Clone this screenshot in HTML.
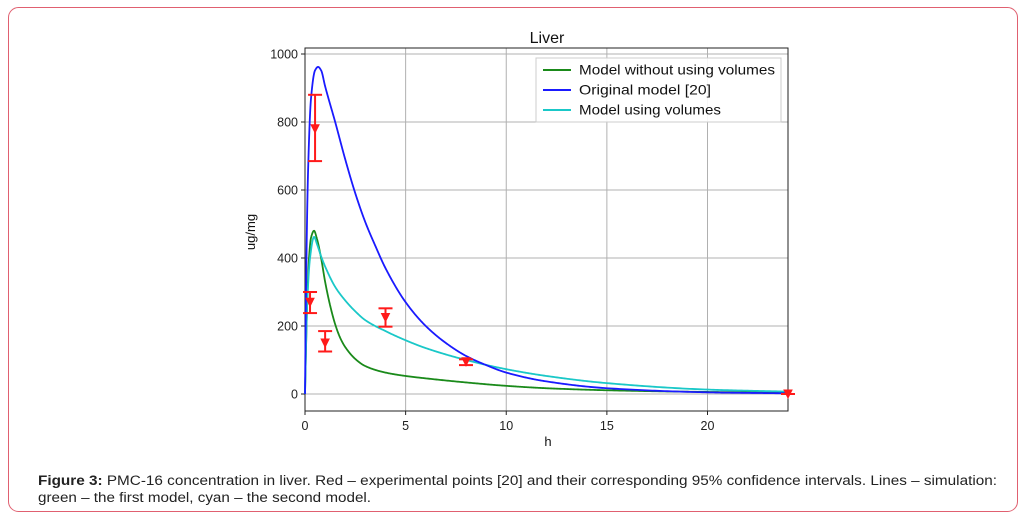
<!DOCTYPE html>
<html><head><meta charset="utf-8"><style>
html,body{margin:0;padding:0;background:#fff;}
svg{display:block;font-family:"Liberation Sans","DejaVu Sans",sans-serif;}
</style></head><body>
<svg id="s" width="1027" height="521" viewBox="0 0 1027 521" xmlns="http://www.w3.org/2000/svg">
<rect x="8.5" y="7.5" width="1009" height="504" rx="10" fill="#fff" stroke="#e06070" stroke-width="1"/>
<g id="grid" stroke="#b0b0b0" stroke-width="1"></g>
<rect x="305" y="48" width="483" height="363" fill="none" stroke="#222" stroke-width="1"/>
<g id="ticks" font-size="12.5" fill="#222"></g>
<text x="547" y="43" font-size="16" text-anchor="middle" fill="#111">Liver</text>
<text x="548" y="446" font-size="13" text-anchor="middle" fill="#111">h</text>
<text transform="translate(255,232) rotate(-90)" font-size="13" text-anchor="middle" fill="#111">ug/mg</text>
<g id="curves" fill="none" stroke-width="1.8"></g>
<g id="err" stroke="#ff1a1a" stroke-width="2" fill="#ff1a1a"></g>
<g>
<rect x="536" y="58" width="245" height="64" fill="#fff" fill-opacity="0.9" stroke="#ccc"/>
<line x1="543" y1="70" x2="571" y2="70" stroke="#1a8a1a" stroke-width="2"/>
<line x1="543" y1="90" x2="571" y2="90" stroke="#1a1aff" stroke-width="2"/>
<line x1="543" y1="110" x2="571" y2="110" stroke="#1ac8c8" stroke-width="2"/>
<text x="579" y="74.5" font-size="14" fill="#111" textLength="196" lengthAdjust="spacingAndGlyphs">Model without using volumes</text>
<text x="579" y="94.5" font-size="14" fill="#111" textLength="132" lengthAdjust="spacingAndGlyphs">Original model [20]</text>
<text x="579" y="114.5" font-size="14" fill="#111" textLength="142" lengthAdjust="spacingAndGlyphs">Model using volumes</text>
</g>
<text x="38" y="485" font-size="13.5" fill="#222" textLength="959" lengthAdjust="spacingAndGlyphs"><tspan font-weight="bold">Figure 3:</tspan> PMC-16 concentration in liver. Red – experimental points [20] and their corresponding 95% confidence intervals. Lines – simulation:</text>
<text x="38" y="502" font-size="13.5" fill="#222" textLength="333" lengthAdjust="spacingAndGlyphs">green – the first model, cyan – the second model.</text>
</svg>
<script>
var NS="http://www.w3.org/2000/svg";
function X(t){return 305+t*483/24;}
function Y(v){return 394-v*0.34;}
function el(p,n,a){var e=document.createElementNS(NS,n);for(var k in a)e.setAttribute(k,a[k]);document.getElementById(p).appendChild(e);return e;}
[0,5,10,15,20].forEach(function(t){el("grid","line",{x1:X(t),x2:X(t),y1:48,y2:411});
el("ticks","line",{x1:X(t),x2:X(t),y1:411,y2:415,stroke:"#222"});
var tx=el("ticks","text",{x:X(t),y:430,"text-anchor":"middle"});tx.textContent=t;});
[0,200,400,600,800,1000].forEach(function(v){el("grid","line",{x1:305,x2:788,y1:Y(v),y2:Y(v)});
el("ticks","line",{x1:301,x2:305,y1:Y(v),y2:Y(v),stroke:"#222"});
var tx=el("ticks","text",{x:298,y:Y(v)+4.5,"text-anchor":"end"});tx.textContent=v;});
// monotone cubic interpolation
function mono(pts){var n=pts.length,x=pts.map(p=>p[0]),y=pts.map(p=>p[1]),d=[],m=[];
for(var i=0;i<n-1;i++)d.push((y[i+1]-y[i])/(x[i+1]-x[i]));
m[0]=d[0];m[n-1]=d[n-2];
for(i=1;i<n-1;i++){if(d[i-1]*d[i]<=0)m[i]=0;else{var w1=2*(x[i+1]-x[i])+(x[i]-x[i-1]),w2=(x[i+1]-x[i])+2*(x[i]-x[i-1]);m[i]=(w1+w2)/(w1/d[i-1]+w2/d[i]);}}
var s="";
for(i=0;i<n-1;i++){var h=x[i+1]-x[i];for(var k=0;k<=40;k++){var t=k/40,h00=2*t*t*t-3*t*t+1,h10=t*t*t-2*t*t+t,h01=-2*t*t*t+3*t*t,h11=t*t*t-t*t;
var v=h00*y[i]+h10*h*m[i]+h01*y[i+1]+h11*h*m[i+1];var xx=x[i]+t*h;s+=(s?" L":"M")+X(xx).toFixed(2)+","+Y(v).toFixed(2);}}
return s;}
var green=[[0,0],[0.1,250],[0.2,400],[0.3,460],[0.45,480],[0.6,455],[0.8,400],[1,330],[1.25,260],[1.5,205],[1.75,165],[2,138],[2.5,103],[3,82],[4,63],[5,53],[6,46],[8,34],[10,24],[12,17],[15,11],[20,6],[24,4]];
var cyan=[[0,0],[0.1,250],[0.25,400],[0.45,462],[0.6,440],[0.8,405],[1,375],[1.5,315],[2,275],[2.5,243],[3,217],[4,185],[5,158],[6,135],[8,100],[10,73],[12,53],[15,32],[20,13],[24,7]];
var blue=[[0,0],[0.05,300],[0.15,650],[0.3,870],[0.5,952],[0.65,962],[0.8,952],[1,905],[1.5,800],[2,690],[2.5,590],[3,505],[3.5,435],[4,370],[5,270],[6,200],[7,150],[8,112],[9,85],[10,63],[12,37],[15,17],[20,5],[24,2]];
el("curves","path",{d:mono(green),stroke:"#1a8a1a"});
el("curves","path",{d:mono(cyan),stroke:"#1ac8c8"});
el("curves","path",{d:mono(blue),stroke:"#1a1aff"});
[[0.5,780,685,880],[0.25,270,238,300],[1,150,125,185],[4,225,198,252],[8,95,85,102],[24,0,0,0]].forEach(function(e){
var x=X(e[0]);el("err","line",{x1:x,x2:x,y1:Y(e[2]),y2:Y(e[3])});
el("err","line",{x1:x-7,x2:x+7,y1:Y(e[2]),y2:Y(e[2])});el("err","line",{x1:x-7,x2:x+7,y1:Y(e[3]),y2:Y(e[3])});
var y=Y(e[1]);el("err","path",{d:"M"+(x-4)+","+(y-4)+" L"+(x+4)+","+(y-4)+" L"+x+","+(y+4)+"Z","stroke-width":"1"});});
</script>
</body></html>
